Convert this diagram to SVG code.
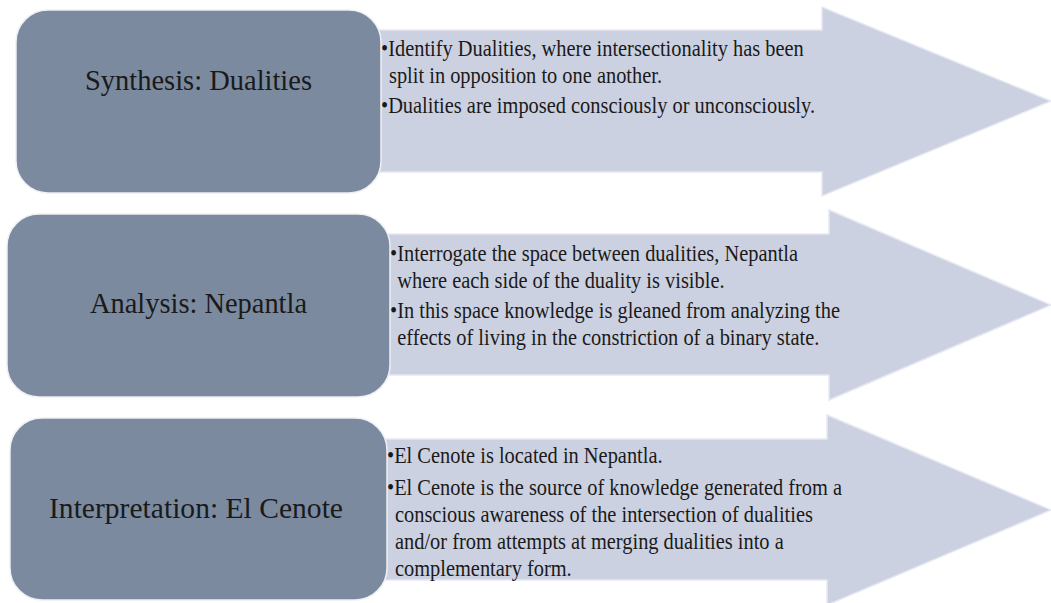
<svg xmlns="http://www.w3.org/2000/svg" width="1051" height="603" viewBox="0 0 1051 603">
  <style>
    .arrow { fill: #ccd1e1; stroke: #e6e9f1; stroke-width: 1.5; }
    .box { fill: #7b8a9f; stroke: #eef0f4; stroke-width: 1.5; }
    .label { font-family: "Liberation Serif", "Times New Roman", serif; font-size: 30px; fill: #1a1a1a; text-anchor: middle; }
    .body { font-family: "Liberation Serif", "Times New Roman", serif; font-size: 24px; fill: #1a1a1a; }
  </style>
  <rect width="1051" height="603" fill="#ffffff"/>

  <!-- Step 1 -->
  <g id="synthesis">
    <polygon class="arrow" points="370,30 822,30 822,7 1051,101 822,196 822,172 370,172"/>
    <rect class="box" x="16" y="10" width="365" height="183" rx="32" ry="32"/>
    <text class="label" x="198.5" y="90" textLength="227" lengthAdjust="spacingAndGlyphs">Synthesis: Dualities</text>
    <!-- condensed body copy -->
    <text class="body" transform="translate(381,0) scale(0.85,1)">
      <tspan x="0" y="56">•Identify Dualities, where intersectionality has been</tspan>
      <tspan x="9.4" y="83">split in opposition to one another.</tspan>
      <tspan x="0" y="113">•Dualities are imposed consciously or unconsciously.</tspan>
    </text>
  </g>

  <!-- Step 2 -->
  <g id="analysis">
    <polygon class="arrow" points="375,234 829,234 829,210 1051,305 829,400 829,375 375,375"/>
    <rect class="box" x="7" y="214" width="383" height="183" rx="32" ry="32"/>
    <text class="label" x="198.5" y="313" textLength="217" lengthAdjust="spacingAndGlyphs">Analysis: Nepantla</text>
    <text class="body" transform="translate(390,0) scale(0.85,1)">
      <tspan x="0" y="261">•Interrogate the space between dualities, Nepantla</tspan>
      <tspan x="8.5" y="288">where each side of the duality is visible.</tspan>
      <tspan x="0" y="318">•In this space knowledge is gleaned from analyzing the</tspan>
      <tspan x="8.5" y="345">effects of living in the constriction of a binary state.</tspan>
    </text>
  </g>

  <!-- Step 3 -->
  <g id="interpretation">
    <polygon class="arrow" points="375,439 827,439 827,415 1051,510 827,605 827,580 375,580"/>
    <rect class="box" x="10" y="418" width="377" height="182" rx="32" ry="32"/>
    <text class="label" x="196" y="518" textLength="294" lengthAdjust="spacingAndGlyphs">Interpretation: El Cenote</text>
    <text class="body" transform="translate(387,0) scale(0.85,1)">
      <tspan x="0" y="463">•El Cenote is located in Nepantla.</tspan>
      <tspan x="0" y="495">•El Cenote is the source of knowledge generated from a</tspan>
      <tspan x="9.4" y="522">conscious awareness of the intersection of dualities</tspan>
      <tspan x="9.4" y="549">and/or from attempts at merging dualities into a</tspan>
      <tspan x="9.4" y="576">complementary form.</tspan>
    </text>
  </g>

  <!-- The arrows run straight on from each box; no separate connectors. -->
  <g id="connectors"></g>
</svg>
